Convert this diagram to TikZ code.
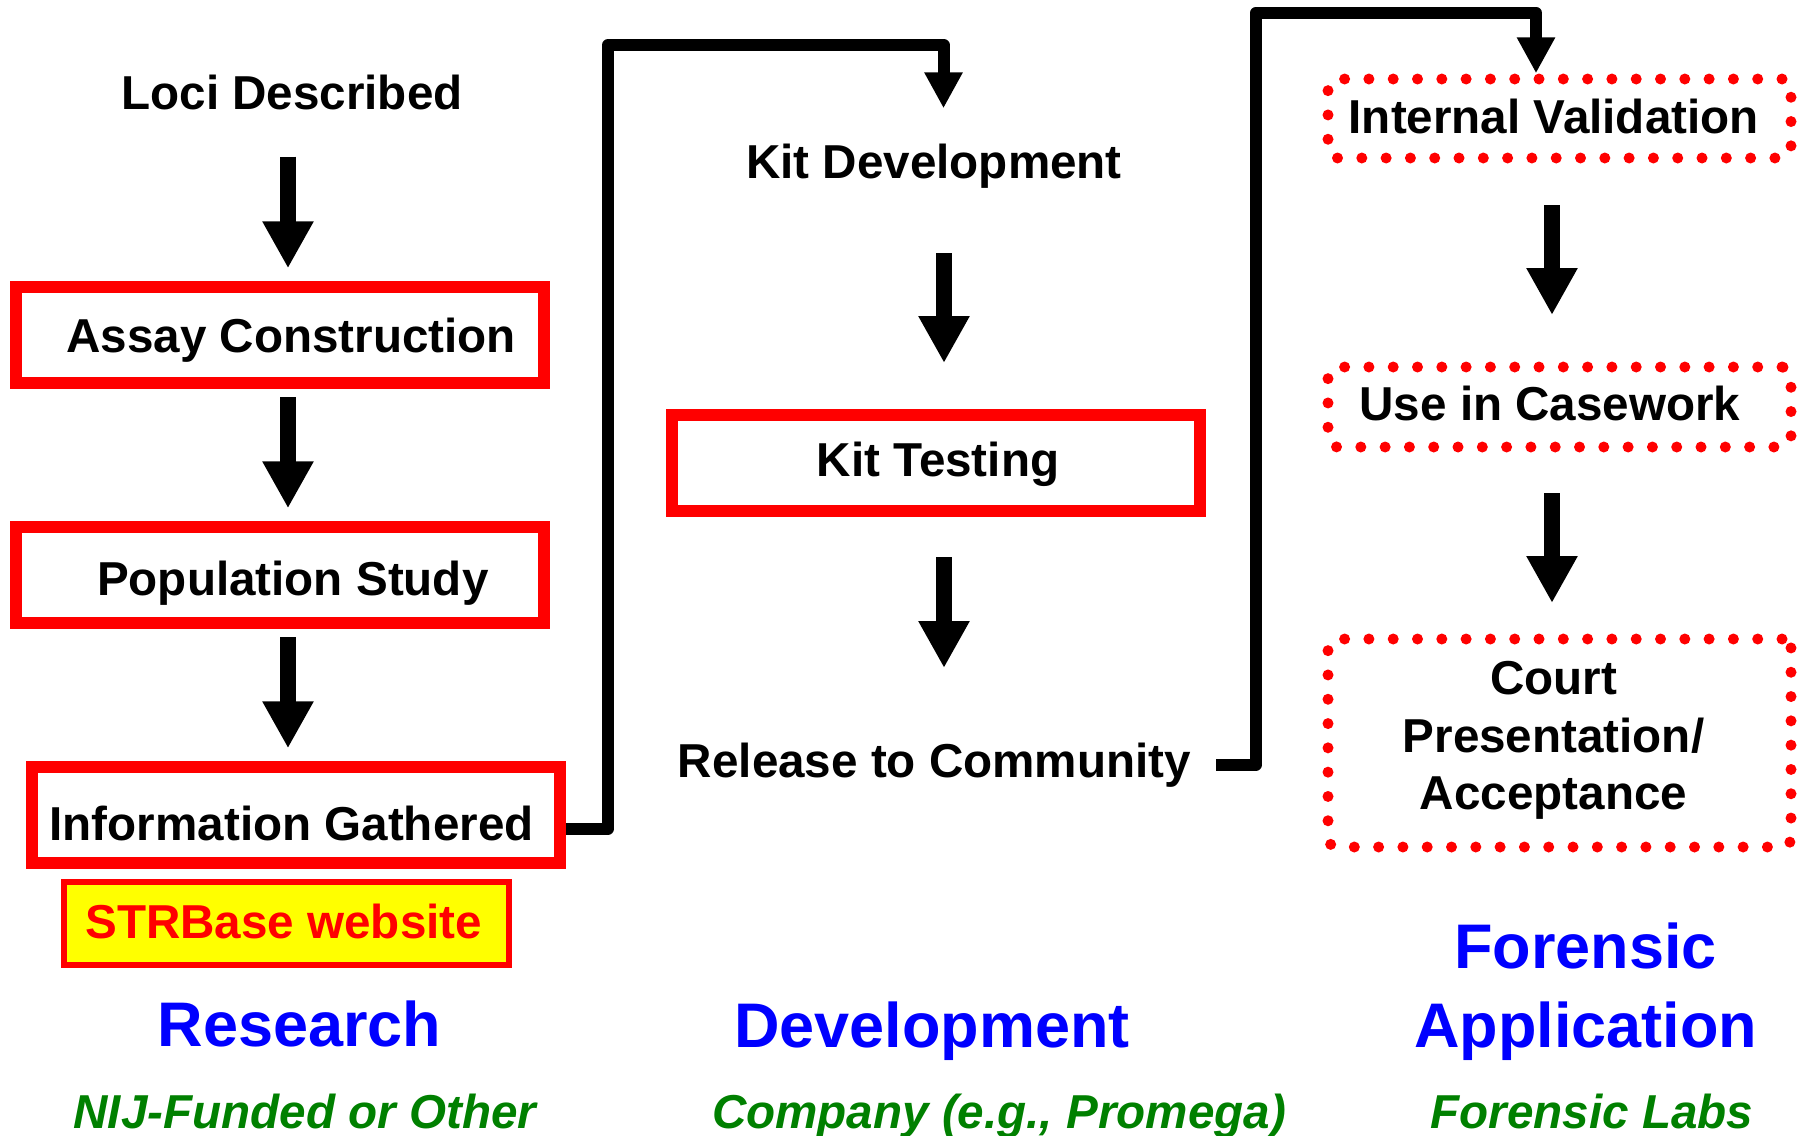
\documentclass[tikz,border=0pt]{standalone}
\usepackage{fontspec}
\setmainfont{Liberation Sans}
\usetikzlibrary{arrows.meta}

\definecolor{stepred}{RGB}{255,0,0}
\definecolor{noteyellow}{RGB}{255,255,0}
\definecolor{headblue}{RGB}{0,0,255}
\definecolor{subgreen}{RGB}{0,128,0}

\tikzset{
  every node/.style={inner sep=0pt, outer sep=0pt},
  txt/.style={font=\fontsize{47.6}{57.5}\selectfont\bfseries, text height=34pt, text depth=0pt},
  bigtxt/.style={font=\fontsize{63}{79}\selectfont\bfseries, text=headblue, text height=45pt, text depth=0pt},
  subtxt/.style={font=\fontsize{47.6}{57.5}\selectfont\bfseries\itshape, text=subgreen, text height=34pt, text depth=0pt},
  redbox/.style={draw=stepred, line width=12pt, rectangle},
  notebox/.style={draw=stepred, fill=noteyellow, line width=6pt, rectangle},
  dotbox/.style={draw=stepred, line width=11pt, dash pattern=on 0pt off 24.3pt, line cap=round, rounded corners=9pt, rectangle},
  bigarr/.style={draw, line width=16pt, -{Triangle[width=48pt, length=47pt]}},
  linkarr/.style={draw, line width=12pt, line join=round, -{Triangle[width=36pt, length=36pt]}},
}

\begin{document}
\begin{tikzpicture}[x=1pt, y=-1pt]
\useasboundingbox (0,0) rectangle (1812,1135);

% ---- boxes ----
\node[redbox, minimum width=528pt, minimum height=95.7pt] (assaybox) at (280,334.85) {};
\node[redbox, minimum width=528pt, minimum height=95.7pt] (popbox) at (280,574.85) {};
\node[redbox, minimum width=527.8pt, minimum height=95.7pt] (infobox) at (295.9,814.85) {};
\node[notebox, minimum width=444.7pt, minimum height=82.4pt] (strbox) at (286.7,923.5) {};
\node[redbox, minimum width=527.5pt, minimum height=96pt] (ktbox) at (935.75,463) {};
\node[dotbox, minimum width=463pt, minimum height=79pt] (ivbox) at (1559.5,118.5) {};
\node[dotbox, minimum width=463pt, minimum height=80pt] (usebox) at (1559.5,407) {};
\node[dotbox, minimum width=463pt, minimum height=208pt] (courtbox) at (1559.5,743) {};

% ---- research column ----
\node[txt] (loci) at (292,92) {Loci Described};
\node[txt] (assay) at (291.3,335.8) {Assay Construction};
\node[txt] (pop) at (292.8,578.3) {Population Study};
\node[txt] (info) at (291.6,823.3) {Information Gathered};
\node[txt, text=stepred] (strbase) at (283.7,921.7) {STRBase website};
\node[bigtxt] (research) at (299.7,1024) {Research};
\node[subtxt] (nij) at (305,1111.3) {NIJ-Funded or Other};

% ---- development column ----
\node[txt] (kitdev) at (934,161.7) {Kit Development};
\node[txt] (kittest) at (938,459.5) {Kit Testing};
\node[txt] (release) at (934.5,760) {Release to Community};
\node[bigtxt] (development) at (932,1024.7) {Development};
\node[subtxt] (company) at (999,1111) {Company (e.g., Promega)};

% ---- application column ----
\node[txt] (intval) at (1553.7,116.3) {Internal Validation};
\node[txt] (casework) at (1550,403.7) {Use in Casework};
\node[font=\fontsize{47.6}{57.5}\selectfont\bfseries, align=center, anchor=north] (court) at (1553.5,661.5) {Court\\Presentation/\\Acceptance};
\node[font=\fontsize{63}{79}\selectfont\bfseries, text=headblue, align=center, anchor=north] (forensic) at (1585.5,922.5) {Forensic\\Application};
\node[subtxt] (labs) at (1592,1111) {Forensic Labs};

% ---- step arrows ----
\draw[bigarr] ([xshift=-4pt, yshift=-47.7pt]loci.south) -- ([xshift=8pt, yshift=18.7pt]assaybox.north);
\draw[bigarr] ([xshift=8pt, yshift=-14.3pt]assaybox.south) -- ([xshift=8pt, yshift=18.7pt]popbox.north);
\draw[bigarr] ([xshift=8pt, yshift=-14.3pt]popbox.south) -- ([xshift=-7.9pt, yshift=18.7pt]infobox.north);
\draw[bigarr] ([xshift=10pt, yshift=-74.3pt]kitdev.south) -- ([xshift=8.25pt, yshift=52pt]ktbox.north);
\draw[bigarr] ([xshift=8.25pt, yshift=-46pt]ktbox.south) -- ([xshift=9.5pt, yshift=75pt]release.north);
\draw[bigarr] ([xshift=-7.5pt, yshift=-47pt]ivbox.south) -- ([xshift=-7.5pt, yshift=52pt]usebox.north);
\draw[bigarr] ([xshift=-7.5pt, yshift=-46pt]usebox.south) -- ([xshift=-7.5pt, yshift=36pt]courtbox.north);

% ---- hand-over connectors between stages ----
\coordinate (bendA) at (608,45);
\coordinate (bendB) at (1256,12.8);
\draw[linkarr] ([xshift=6pt, yshift=-13.85pt]infobox.east) -| (bendA) -| ([xshift=9.5pt, yshift=36.4pt]kitdev.north);
\draw[linkarr] ([xshift=25pt, yshift=-4.5pt]release.east) -| (bendB) -| ([xshift=-23.5pt, yshift=5.7pt]ivbox.north);
\end{tikzpicture}
\end{document}
